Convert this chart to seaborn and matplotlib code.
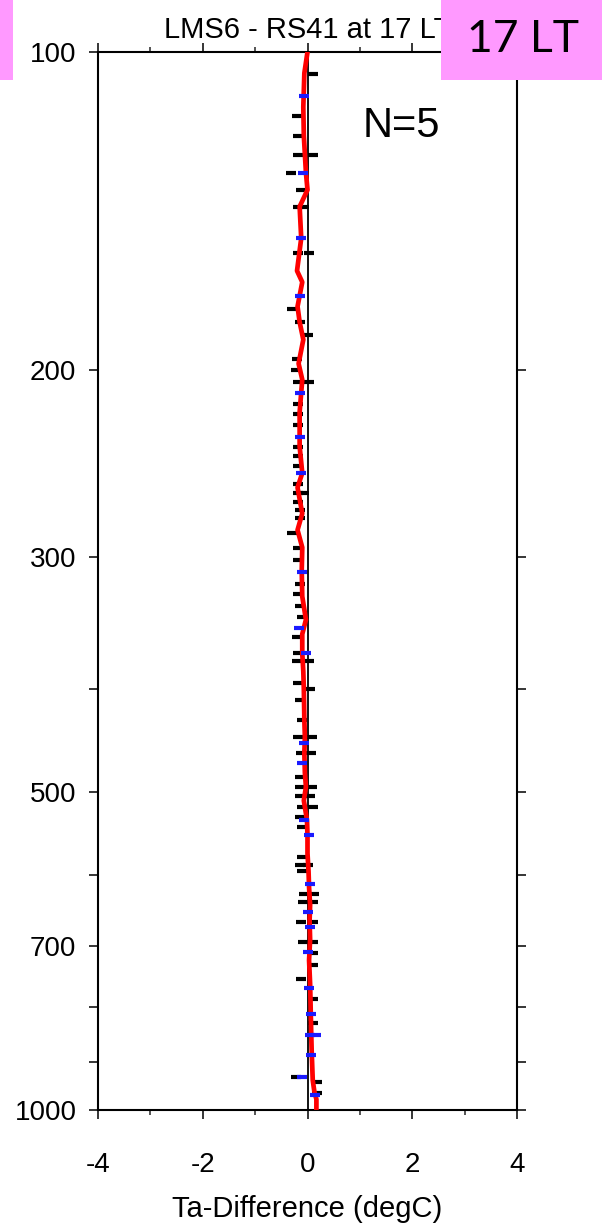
import matplotlib
matplotlib.use("Agg")
import matplotlib.pyplot as plt
import seaborn as sns
import numpy as np
import pandas as pd
from matplotlib.ticker import FixedLocator, FixedFormatter, NullLocator
from matplotlib.patches import Rectangle

# ---------------- data ----------------
mean_pres = [100, 104.7, 112.7, 120, 130, 135, 140, 150, 161, 165, 174, 180, 187,
             197, 204, 219, 236, 250, 258, 273, 283, 294, 309, 327, 344, 355,
             370, 385, 400, 428, 444, 460, 480, 495, 510, 532, 550, 572, 595,
             616, 640, 662, 690, 722, 760, 800, 842, 880, 937, 960, 977, 1000]
mean_diff = [0.0, -0.06, -0.08, -0.07, -0.03, 0.0, -0.15, -0.12, -0.2, -0.1, -0.19, -0.15, -0.08,
             -0.17, -0.1, -0.15, -0.15, -0.1, -0.19, -0.1, -0.19, -0.1, -0.11, -0.1, -0.03, -0.1,
             -0.1, -0.08, -0.07, -0.06, -0.05, -0.06, -0.05, -0.03, -0.07, -0.01, 0.0, 0.0, 0.02,
             0.03, 0.05, 0.04, 0.05, 0.03, 0.05, 0.06, 0.07, 0.08, 0.1, 0.13, 0.17, 0.17]

black_pres = [105, 115, 120, 125, 125, 130, 135, 140, 140, 155, 155, 175, 180, 185,
              195, 200, 205, 205, 215, 220, 225, 236, 241, 246, 256, 261, 261, 266,
              271, 276, 285, 294, 302, 318, 325, 334, 342, 357, 370, 376, 376, 395,
              400, 410, 428, 444, 444, 460, 460, 484, 495, 495, 505, 505, 517, 517,
              528, 540, 576, 587, 587, 595, 625, 625, 636, 636, 664, 664, 694, 694,
              710, 730, 752, 785, 828, 931, 940, 963]
black_diff = [0.1, -0.2, -0.19, -0.19, 0.1, -0.31, -0.12, -0.19, -0.06, -0.19, 0.02, -0.29, -0.15, 0.0,
              -0.2, -0.22, -0.19, 0.03, -0.19, -0.19, -0.19, -0.19, -0.19, -0.19, -0.19, -0.19, -0.06, -0.19,
              -0.15, -0.15, -0.29, -0.19, -0.19, -0.15, -0.19, -0.15, -0.1, -0.2, -0.19, -0.2, 0.02, -0.19,
              0.04, -0.15, -0.11, -0.19, 0.08, -0.12, 0.06, -0.15, -0.15, 0.08, -0.15, 0.04, 0.1, -0.1,
              -0.15, -0.1, -0.1, -0.15, 0.0, -0.1, -0.06, 0.13, -0.08, 0.1, -0.12, 0.11, -0.08, 0.11,
              0.11, 0.1, -0.12, 0.1, 0.1, -0.22, 0.19, 0.19]

blue_pres = [110, 130, 150, 170, 210, 231, 250, 310, 350, 370, 450, 470, 532, 550,
             612, 650, 672, 709, 767, 811, 850, 850, 887, 931, 967]
blue_diff = [-0.06, -0.08, -0.13, -0.15, -0.15, -0.15, -0.12, -0.1, -0.17, -0.03, -0.06, -0.1, -0.06, 0.02,
             0.04, 0.0, 0.04, 0.0, 0.02, 0.06, 0.04, 0.17, 0.06, -0.1, 0.15]

x_ticks_major = [-4, -2, 0, 2, 4]
x_ticks_minor = [-3, -1, 1, 3]
y_ticks = [100, 200, 300, 400, 500, 600, 700, 800, 900, 1000]
y_tick_labels = ["100", "200", "300", "", "500", "", "700", "", "", "1000"]

title = "LMS6 - RS41 at 17 LT"
xlabel = "Ta-Difference (degC)"
badge = "17 LT"
n_text = "N=5"

# ---------------- plot ----------------
sns.set_theme(style="ticks")
plt.rcParams["font.family"] = ["Liberation Sans", "DejaVu Sans"]

W, H = 602, 1227
fig = plt.figure(figsize=(W / 100, H / 100), dpi=100)
ax = fig.add_axes([98 / W, 1 - 1110 / H, (517 - 98) / W, (1110 - 52) / H])

ax.axvline(0, color="black", lw=1.3, zorder=1)

black_df = pd.DataFrame({"diff": black_diff, "pres": black_pres})
blue_df = pd.DataFrame({"diff": blue_diff, "pres": blue_pres})
mean_df = pd.DataFrame({"diff": mean_diff, "pres": mean_pres})

sns.scatterplot(data=black_df, x="diff", y="pres", marker="_", s=55, color="black",
                linewidth=3.0, ax=ax, zorder=2, legend=False)
sns.lineplot(data=mean_df, x="diff", y="pres", orient="y", sort=False, estimator=None,
             color="#ff0000", lw=3.4, ax=ax, zorder=3, legend=False)
sns.scatterplot(data=blue_df, x="diff", y="pres", marker="_", s=55, color="#1a1aff",
                linewidth=3.0, ax=ax, zorder=4, legend=False)

ax.set_yscale("log")
ax.set_ylim(1000, 100)
ax.set_xlim(-4, 4)
ax.yaxis.set_major_locator(FixedLocator(y_ticks))
ax.yaxis.set_major_formatter(FixedFormatter(y_tick_labels))
ax.yaxis.set_minor_locator(NullLocator())
ax.xaxis.set_major_locator(FixedLocator(x_ticks_major))
ax.xaxis.set_minor_locator(FixedLocator(x_ticks_minor))
ax.set_xticklabels([str(v) for v in x_ticks_major])

for s in ax.spines.values():
    s.set_linewidth(1.5)
    s.set_color("black")

ax.tick_params(axis="both", which="major", length=6.5, width=1.1, direction="out",
               top=True, right=True, colors="black", labelsize=20)
ax.tick_params(axis="x", which="major", pad=24)
ax.tick_params(axis="y", which="major", pad=9)
ax.tick_params(axis="x", which="minor", length=3.3, width=1.1, direction="out",
               top=True, bottom=True)

ax.set_xlabel(xlabel, fontsize=21, labelpad=12, color="black")
ax.set_ylabel("")
ax.set_title(title, fontsize=21, pad=10, color="black")

ax.text((363 - 98) / 419, (1110 - 137) / 1058, n_text, transform=ax.transAxes,
        fontsize=30, ha="left", va="baseline", color="black")

# pink label boxes
pink = "#ff99ff"
fig.patches.append(Rectangle((441 / W, 1 - 80 / H), 161 / W, 80 / H,
                             transform=fig.transFigure, facecolor=pink, edgecolor="none", zorder=10))
fig.patches.append(Rectangle((0, 1 - 80 / H), 13 / W, 80 / H,
                             transform=fig.transFigure, facecolor=pink, edgecolor="none", zorder=10))
fig.text(523 / W, 1 - 39 / H, badge, fontsize=32, family=["Lato", "DejaVu Sans"],
         ha="center", va="center", color="black", zorder=11)

fig.savefig("out.png", dpi=100)
